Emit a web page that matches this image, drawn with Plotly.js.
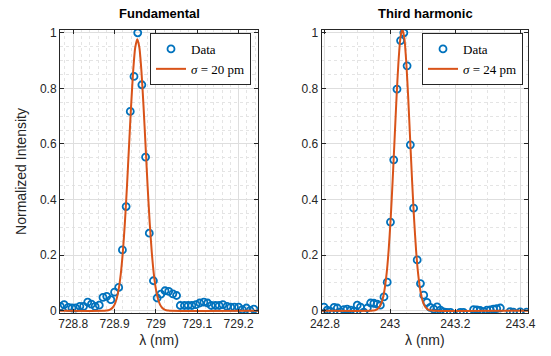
<!DOCTYPE html>
<html>
<head>
<meta charset="utf-8">
<script src="https://cdn.plot.ly/plotly-3.0.1.min.js"></script>
<style>html,body{margin:0;padding:0;background:#fff;}#chart{width:551px;height:356px;}</style>
</head>
<body>
<div id="chart"></div>
<script>
// ---- Fundamental (left panel) ----
const fundWavelength = [728.769, 728.778, 728.788, 728.797, 728.806, 728.816, 728.825, 728.835, 728.844, 728.853,
  728.863, 728.872, 728.881, 728.891, 728.900, 728.910, 728.919, 728.928, 728.938, 728.947,
  728.956, 728.966, 728.975, 728.984, 728.994, 729.003, 729.012, 729.022, 729.031, 729.041,
  729.050, 729.059, 729.069, 729.078, 729.087, 729.097, 729.106, 729.116, 729.125, 729.134,
  729.144, 729.153, 729.162, 729.172, 729.181, 729.190, 729.200, 729.209, 729.219, 729.228, 729.237];
const fundIntensity = [0.016, 0.022, 0.012, 0.010, 0.010, 0.016, 0.016, 0.031, 0.024, 0.016,
  0.020, 0.048, 0.052, 0.040, 0.067, 0.084, 0.219, 0.375, 0.717, 0.843,
  1.000, 0.813, 0.553, 0.279, 0.108, 0.046, 0.060, 0.072, 0.070, 0.061,
  0.055, 0.019, 0.019, 0.019, 0.019, 0.022, 0.028, 0.031, 0.028, 0.019,
  0.019, 0.019, 0.022, 0.016, 0.013, 0.013, 0.013, 0.004, 0.010, 0.001, 0.006];
const fundFitWavelength = [728.760, 728.875, 728.880, 728.885, 728.890, 728.895, 728.900, 728.905, 728.910, 728.915,
  728.920, 728.925, 728.930, 728.935, 728.940, 728.945, 728.950, 728.955, 728.960, 728.965,
  728.970, 728.975, 728.980, 728.985, 728.990, 728.995, 729.000, 729.005, 729.010, 729.015,
  729.020, 729.025, 729.030, 729.035, 729.260];
const fundFitIntensity = [0.000, 0.000, 0.001, 0.002, 0.005, 0.011, 0.022, 0.043, 0.078, 0.132,
  0.211, 0.317, 0.447, 0.593, 0.737, 0.862, 0.947, 0.977, 0.947, 0.862,
  0.737, 0.593, 0.447, 0.317, 0.211, 0.132, 0.078, 0.043, 0.022, 0.011,
  0.005, 0.002, 0.001, 0.000, 0.000];
const fundTickVals = [728.8, 728.9, 729.0, 729.1, 729.2];
const fundTickText = ['728.8', '728.9', '729', '729.1', '729.2'];

// ---- Third harmonic (right panel) ----
const thWavelength = [242.797, 242.807, 242.817, 242.828, 242.838, 242.848, 242.858, 242.868, 242.879, 242.889,
  242.899, 242.909, 242.919, 242.930, 242.940, 242.950, 242.960, 242.970, 242.981, 242.991,
  243.001, 243.011, 243.021, 243.032, 243.042, 243.052, 243.062, 243.072, 243.083, 243.093,
  243.103, 243.113, 243.123, 243.134, 243.144, 243.154, 243.164, 243.174, 243.185,
  243.215, 243.225, 243.256, 243.266, 243.276, 243.287, 243.297, 243.307, 243.317, 243.327, 243.338,
  243.368, 243.378, 243.399, 243.419];
const thIntensity = [0.013, 0.002, -0.002, 0.012, 0.010, -0.004, 0.004, 0.006, 0.002, -0.002,
  0.020, 0.013, -0.005, 0.010, 0.028, 0.027, 0.024, 0.020, 0.050, 0.103,
  0.319, 0.543, 0.797, 0.972, 1.000, 0.881, 0.597, 0.369, 0.183, 0.098,
  0.056, 0.030, 0.012, 0.006, 0.014, 0.002, -0.004, -0.006, -0.006,
  -0.006, -0.006, 0.004, 0.003, 0.001, -0.003, 0.002, 0.003, 0.006, 0.008, 0.010,
  -0.003, -0.005, -0.004, -0.005];
const thFitWavelength = [242.780, 242.9415, 242.9475, 242.9535, 242.9595, 242.9655, 242.9715, 242.9775, 242.9835, 242.9895,
  242.9955, 243.0015, 243.0075, 243.0135, 243.0195, 243.0255, 243.0315, 243.0375, 243.0435, 243.0495,
  243.0555, 243.0615, 243.0675, 243.0735, 243.0795, 243.0855, 243.0915, 243.0975, 243.1035, 243.1095,
  243.1155, 243.1215, 243.1275, 243.1335, 243.430];
const thFitIntensity = [0.000, 0.000, 0.001, 0.002, 0.005, 0.011, 0.023, 0.044, 0.081, 0.137,
  0.219, 0.329, 0.464, 0.614, 0.765, 0.894, 0.982, 1.013, 0.982, 0.894,
  0.765, 0.614, 0.464, 0.329, 0.219, 0.137, 0.081, 0.044, 0.023, 0.011,
  0.005, 0.002, 0.001, 0.000, 0.000];
const thTickVals = [242.8, 243.0, 243.2, 243.4];
const thTickText = ['242.8', '243', '243.2', '243.4'];

const yTickVals = [0, 0.2, 0.4, 0.6, 0.8, 1];
const yTickText = ['0', '0.2', '0.4', '0.6', '0.8', '1'];

const panelTitles = ['Fundamental', 'Third harmonic'];
const legendLabels = ['Data', '<i>σ</i> = 20 pm', 'Data', '<i>σ</i> = 24 pm'];
const xTitle = 'λ (nm)';
const yTitle = 'Normalized Intensity';

const blue = '#0072BD', orange = '#D95319', axc = '#262626';

function dataTrace(x, y, xa, ya, name, leg) {
  return {x: x, y: y, xaxis: xa, yaxis: ya, name: name, legend: leg, type: 'scatter', mode: 'markers',
    marker: {symbol: 'circle-open', size: 7, color: blue, line: {width: 1.8, color: blue}}, cliponaxis: true};
}
function fitTrace(x, y, xa, ya, name, leg) {
  return {x: x, y: y, xaxis: xa, yaxis: ya, name: name, legend: leg, type: 'scatter', mode: 'lines',
    line: {color: orange, width: 2, shape: 'spline', smoothing: 0.6}};
}

const traces = [
  dataTrace(fundWavelength, fundIntensity, 'x', 'y', legendLabels[0], 'legend'),
  fitTrace(fundFitWavelength, fundFitIntensity, 'x', 'y', legendLabels[1], 'legend'),
  dataTrace(thWavelength, thIntensity, 'x2', 'y2', legendLabels[2], 'legend2'),
  fitTrace(thFitWavelength, thFitIntensity, 'x2', 'y2', legendLabels[3], 'legend2')
];

const common = {
  showline: true, linecolor: axc, linewidth: 1, mirror: 'ticks',
  ticks: 'inside', ticklen: 4, tickwidth: 1, tickcolor: axc,
  showgrid: true, gridcolor: '#dedede', gridwidth: 1, zeroline: false,
  tickfont: {family: 'Liberation Sans, Arial, sans-serif', size: 12, color: axc},
  automargin: false, fixedrange: true
};
const yDomain = [1 - 313/356, 1 - 30/356];

const layout = {
  width: 551, height: 356,
  margin: {l: 0, r: 0, t: 0, b: 0},
  paper_bgcolor: '#ffffff', plot_bgcolor: '#ffffff',
  font: {family: 'Liberation Sans, Arial, sans-serif', size: 12, color: axc},
  showlegend: true,
  xaxis: Object.assign({}, common, {
    domain: [60/551, 258/551], range: [728.768, 729.247], anchor: 'y',
    tickmode: 'array', tickvals: fundTickVals, ticktext: fundTickText,
    minor: {dtick: 0.02, tick0: 728.8, showgrid: true, gridcolor: '#e4e4e4', griddash: 'dot', gridwidth: 1},
    title: {text: xTitle, standoff: 4, font: {size: 14, color: axc}}
  }),
  yaxis: Object.assign({}, common, {
    domain: yDomain, range: [-0.008, 1.01], anchor: 'x',
    tickmode: 'array', tickvals: yTickVals, ticktext: yTickText,
    minor: {dtick: 0.05, tick0: 0, showgrid: true, gridcolor: '#e4e4e4', griddash: 'dot', gridwidth: 1},
    title: {text: yTitle, standoff: 10, font: {size: 14, color: axc}}
  }),
  xaxis2: Object.assign({}, common, {
    domain: [321.7/551, 528/551], range: [242.79, 243.423], anchor: 'y2',
    tickmode: 'array', tickvals: thTickVals, ticktext: thTickText,
    minor: {dtick: 0.05, tick0: 242.8, showgrid: true, gridcolor: '#e4e4e4', griddash: 'dot', gridwidth: 1},
    title: {text: xTitle, standoff: 4, font: {size: 14, color: axc}}
  }),
  yaxis2: Object.assign({}, common, {
    domain: yDomain, range: [-0.008, 1.01], anchor: 'x2',
    tickmode: 'array', tickvals: yTickVals, ticktext: yTickText,
    minor: {dtick: 0.05, tick0: 0, showgrid: true, gridcolor: '#e4e4e4', griddash: 'dot', gridwidth: 1}
  }),
  legend: {x: 251/551, xanchor: 'right', y: 1 - 33/356, yanchor: 'top',
    bgcolor: '#ffffff', bordercolor: axc, borderwidth: 1, tracegroupgap: 0, itemwidth: 30,
    font: {family: 'Liberation Serif, Times New Roman, serif', size: 13, color: '#000'}},
  legend2: {x: 523/551, xanchor: 'right', y: 1 - 33/356, yanchor: 'top',
    bgcolor: '#ffffff', bordercolor: axc, borderwidth: 1, tracegroupgap: 0, itemwidth: 30,
    font: {family: 'Liberation Serif, Times New Roman, serif', size: 13, color: '#000'}},
  annotations: [
    {text: '<b>' + panelTitles[0] + '</b>', xref: 'paper', yref: 'paper', x: 159/551, y: 1 - 14/356,
      xanchor: 'center', yanchor: 'middle', showarrow: false, font: {size: 13, color: '#000'}},
    {text: '<b>' + panelTitles[1] + '</b>', xref: 'paper', yref: 'paper', x: 425/551, y: 1 - 14/356,
      xanchor: 'center', yanchor: 'middle', showarrow: false, font: {size: 13, color: '#000'}}
  ]
};

Plotly.newPlot('chart', traces, layout, {displayModeBar: false, staticPlot: true});
</script>
</body>
</html>
